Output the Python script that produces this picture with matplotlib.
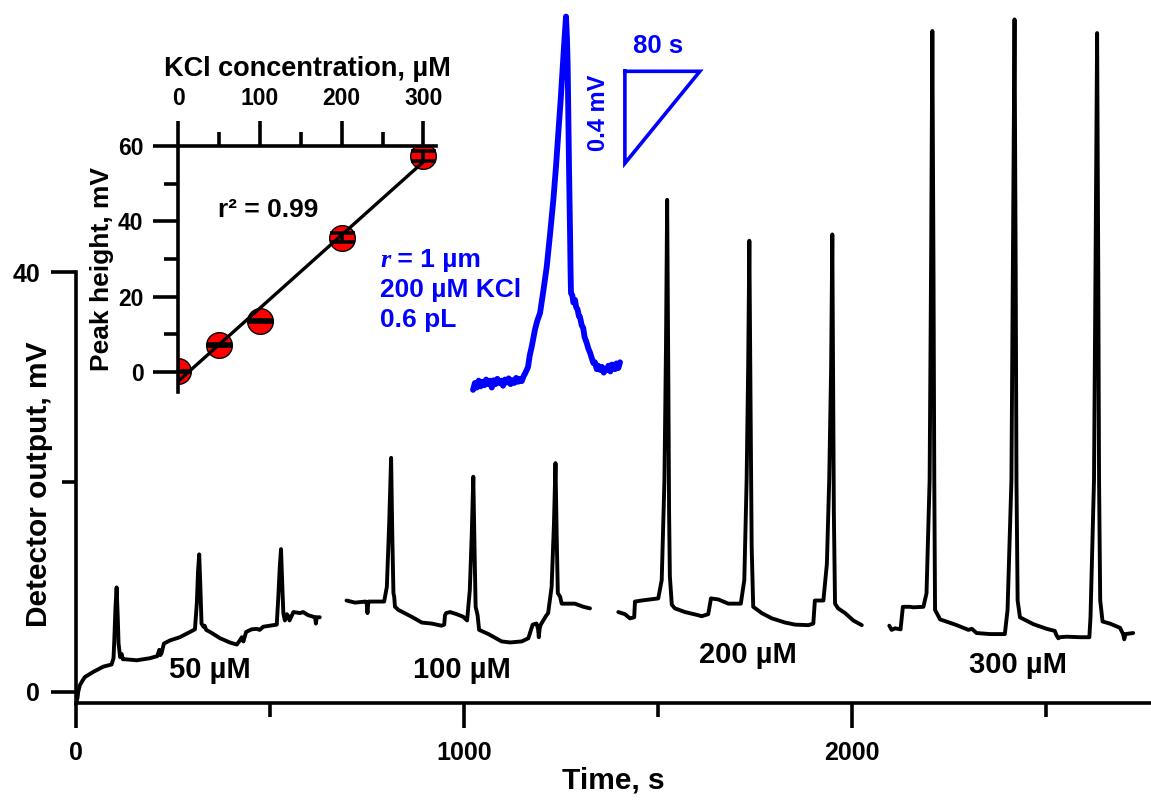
import numpy as np
import matplotlib
matplotlib.use("Agg")
import matplotlib.pyplot as plt
from matplotlib.ticker import FixedLocator

plt.rcParams["font.family"] = ["Liberation Sans", "DejaVu Sans"]
plt.rcParams["font.weight"] = "bold"
plt.rcParams["axes.labelweight"] = "bold"

# detector output (mV) vs time (s), one run per KCl concentration
t_50 = [0, 3, 5, 9, 15, 22, 44, 70, 91, 96, 98, 101, 104, 107, 109, 113, 117, 120, 126, 156,
        190, 209, 214, 217, 220, 226, 242, 267, 293, 306, 311, 314, 317, 320, 323, 328, 331, 335, 345, 371,
        396, 414, 422, 427, 431, 438, 452, 465, 473, 482, 517, 521, 525, 528, 531, 534, 538, 543, 547, 550,
        560, 577, 585, 598, 616, 618, 620, 628]
v_50 = [-1.0, -0.6, 0.0, 0.6, 1.0, 1.4, 1.9, 2.4, 2.6, 3.2, 4.9, 8.0, 9.95, 7.0, 4.6, 3.3, 3.6, 3.1, 3.1, 3.0,
        3.2, 3.4, 4.0, 3.5, 3.7, 4.6, 4.9, 5.2, 5.7, 5.95, 8.5, 11.5, 13.1, 10.0, 6.5, 6.2, 6.3, 5.9, 5.7, 5.1,
        4.7, 4.5, 4.9, 5.2, 4.8, 5.7, 5.95, 6.0, 5.9, 6.2, 6.4, 9.0, 12.0, 13.6, 10.5, 7.5, 6.8, 7.4, 7.2, 6.8,
        7.6, 7.5, 7.6, 7.3, 7.1, 6.5, 7.1, 7.1]

t_100 = [697, 719, 746, 749, 751, 753, 754, 794, 801, 807, 812, 815, 818, 820, 822, 831, 865, 891, 917, 942,
         949, 951, 954, 964, 981, 998, 1008, 1015, 1020, 1024, 1027, 1030, 1035, 1039, 1063, 1097, 1119, 1149, 1166, 1177,
         1187, 1191, 1193, 1195, 1198, 1211, 1217, 1226, 1232, 1236, 1239, 1242, 1248, 1252, 1269, 1286, 1308, 1325]
v_100 = [8.7, 8.5, 8.6, 8.5, 7.5, 8.5, 8.6, 8.6, 10.0, 16.0, 22.3, 15.0, 9.4, 9.05, 8.1, 7.8, 7.15, 6.6, 6.5, 6.3,
         6.4, 7.3, 7.5, 7.6, 7.4, 7.15, 6.8, 9.7, 15.0, 20.5, 14.0, 8.1, 7.3, 5.9, 5.5, 4.8, 4.7, 4.8, 5.1, 6.4,
         6.5, 6.0, 5.2, 6.0, 6.4, 7.2, 7.5, 10.0, 16.0, 21.8, 15.0, 9.4, 9.05, 8.4, 8.4, 8.4, 8.1, 7.95]

t_200 = [1398, 1415, 1428, 1439, 1441, 1458, 1501, 1510, 1517, 1521, 1524, 1527, 1529, 1531, 1536, 1544, 1570, 1604, 1613, 1630,
         1637, 1656, 1682, 1714, 1723, 1729, 1733, 1736, 1739, 1742, 1746, 1768, 1794, 1828, 1854, 1888, 1901, 1905, 1927, 1936,
         1942, 1947, 1950, 1952, 1954, 1957, 1965, 1983, 2004, 2026]
v_200 = [7.6, 7.4, 7.0, 7.1, 8.6, 8.7, 8.9, 10.65, 20.2, 33.0, 46.9, 30.0, 17.0, 11.0, 8.3, 7.95, 7.6, 7.3, 7.2, 7.4,
         8.9, 8.8, 8.4, 8.4, 10.65, 20.2, 31.0, 43.0, 28.0, 13.8, 8.1, 7.5, 7.0, 6.6, 6.4, 6.35, 6.5, 8.7, 8.7, 12.2,
         20.2, 31.0, 43.6, 30.0, 17.0, 8.4, 7.95, 7.5, 6.8, 6.35]

t_300 = [2097, 2103, 2112, 2126, 2132, 2150, 2159, 2185, 2193, 2201, 2205, 2208, 2211, 2213, 2215, 2228, 2271, 2301, 2310, 2322,
         2357, 2395, 2402, 2412, 2416, 2420, 2423, 2425, 2428, 2434, 2468, 2503, 2524, 2528, 2533, 2537, 2554, 2589, 2613, 2616,
         2625, 2629, 2633, 2636, 2638, 2641, 2647, 2666, 2692, 2700, 2703, 2706, 2726]
v_300 = [6.3, 5.9, 6.05, 5.95, 8.1, 8.1, 8.05, 8.1, 9.4, 20.2, 42.0, 63.0, 40.0, 20.2, 7.8, 6.9, 6.35, 5.9, 6.0, 5.6,
         5.5, 5.5, 7.8, 20.2, 42.0, 64.1, 40.0, 20.2, 8.7, 7.1, 6.45, 6.0, 5.8, 5.4, 5.1, 5.2, 5.25, 5.2, 5.2, 7.15,
         20.2, 41.0, 62.8, 40.0, 20.2, 8.7, 6.7, 6.5, 6.1, 5.5, 5.0, 5.5, 5.6]

runs = [(t_50, v_50), (t_100, v_100), (t_200, v_200), (t_300, v_300)]
run_labels = ["50 µM", "100 µM", "200 µM", "300 µM"]

# calibration: mean peak height vs KCl concentration
conc = [0, 50, 100, 200, 300]
peak_mv = [0.2, 7.2, 13.5, 35.7, 57.4]
peak_err = [0.2, 0.3, 0.3, 1.1, 1.4]

# single injection (r = 1 um, 200 uM KCl), time in s, signal in mV above baseline
t_single = [0, 2, 4, 6, 8, 10, 12, 14, 16, 18, 20, 22, 24, 26, 28, 30, 32, 34, 36, 38,
            40, 42, 44, 46, 48, 50, 52, 54, 56, 58.7, 60.5, 62.6, 66, 68.5, 71.5, 75, 78.6, 82, 85.7, 88.5,
            91, 93.5, 95.7, 97.5, 99.2, 100.2, 101, 101.7, 102.4, 103, 103.5, 104, 104.5, 106, 107, 108.8, 110, 111.5, 113, 114.1,
            116, 117.5, 119, 121.3, 123, 125, 126.5, 128.3, 130, 132, 133.5, 135.5, 137.5, 139.5, 141, 142.6, 144.5, 146.5, 148, 149.7,
            151.5, 153, 155, 156.8]
v_single = [-0.03, 0.0, -0.02, 0.01, -0.015, 0.005, -0.01, 0.015, -0.005, 0.01, -0.02, 0.012, -0.005, 0.018, 0.0, 0.01, -0.012, 0.015, 0.002, 0.02,
            -0.005, 0.012, 0.0, 0.022, 0.005, 0.018, 0.008, 0.03, 0.045, 0.07, 0.12, 0.157, 0.23, 0.27, 0.304, 0.40, 0.504, 0.64, 0.796, 0.94,
            1.087, 1.23, 1.374, 1.49, 1.593, 1.50, 1.374, 1.15, 0.939, 0.78, 0.652, 0.50, 0.391, 0.38, 0.35, 0.361, 0.33, 0.32, 0.29, 0.287,
            0.25, 0.24, 0.20, 0.174, 0.15, 0.13, 0.11, 0.087, 0.09, 0.06, 0.075, 0.057, 0.07, 0.045, 0.062, 0.057, 0.075, 0.05, 0.08, 0.078,
            0.06, 0.085, 0.065, 0.09]

W, H = 1151, 800
BLUE = "#0000ff"
LW = 2.6

fig = plt.figure(figsize=(W / 100, H / 100), dpi=100)

# main trace
ax = fig.add_axes([76.3 / W, (H - 703.3) / H, (W - 76.3) / W, 693.3 / H])
ax.set_xlim(0, 2772)
ax.set_ylim(-1.1, 65.0)
for t, v in runs:
    ax.plot(t, v, color="black", lw=2.8, solid_joinstyle="round", solid_capstyle="round")

label_pos = [(345, 1.3), (995, 1.3), (1732, 2.7), (2429, 1.75)]
for txt, (x, y) in zip(run_labels, label_pos):
    ax.text(x, y, txt, fontsize=21, ha="center", va="baseline")

for side in ["top", "right"]:
    ax.spines[side].set_visible(False)
ax.spines["left"].set_bounds(-1.1, 40)
for side in ["left", "bottom"]:
    ax.spines[side].set_linewidth(LW)
ax.xaxis.set_major_locator(FixedLocator([0, 1000, 2000]))
ax.xaxis.set_minor_locator(FixedLocator([500, 1500, 2500]))
ax.yaxis.set_major_locator(FixedLocator([0, 40]))
ax.yaxis.set_minor_locator(FixedLocator([20]))
ax.tick_params(which="major", length=18, width=LW, labelsize=18)
ax.tick_params(which="minor", length=10, width=LW)
ax.tick_params(axis="x", which="major", pad=9)
ax.tick_params(axis="y", which="major", pad=8)
ax.set_xlabel("Time, s", fontsize=21.5, labelpad=1)
ax.set_ylabel("Detector output, mV", fontsize=21.5)
ax.yaxis.set_label_coords(-0.0219, 0.316)

# calibration inset
ax_in = fig.add_axes([178.3 / W, (H - 392) / H, 257.3 / W, 246 / H])
ax_in.patch.set_visible(False)
ax_in.set_xlim(0, 315)
ax_in.set_ylim(-5.3, 60)
ax_in.plot(conc, peak_mv, "o", ms=18.5, mfc="red", mec="black", mew=1, zorder=2)
ax_in.errorbar(conc, peak_mv, yerr=peak_err, fmt="none", ecolor="black",
               elinewidth=LW, capsize=9, capthick=2.6, zorder=3)
slope, icpt = np.polyfit(conc, peak_mv, 1)
fit_x = np.array([0, 300])
ax_in.plot(fit_x, slope * fit_x + icpt, color="black", lw=2.4, zorder=4)
pred = slope * np.array(conc) + icpt
r2 = 1 - np.sum((np.array(peak_mv) - pred) ** 2) / np.sum((np.array(peak_mv) - np.mean(peak_mv)) ** 2)
ax_in.text(48.6, 41.1, f"r² = {r2:.2f}", fontsize=19, ha="left", va="baseline")

ax_in.spines["right"].set_visible(False)
ax_in.spines["bottom"].set_visible(False)
ax_in.spines["left"].set_linewidth(LW)
ax_in.spines["top"].set_linewidth(LW)
ax_in.xaxis.tick_top()
ax_in.xaxis.set_label_position("top")
ax_in.xaxis.set_major_locator(FixedLocator([0, 100, 200, 300]))
ax_in.xaxis.set_minor_locator(FixedLocator([50, 150, 250]))
ax_in.yaxis.set_major_locator(FixedLocator([0, 20, 40, 60]))
ax_in.yaxis.set_minor_locator(FixedLocator([10, 30, 50]))
ax_in.tick_params(which="major", length=18, width=LW, labelsize=16.5)
ax_in.tick_params(which="minor", length=10, width=LW)
ax_in.tick_params(axis="x", which="major", pad=8)
ax_in.tick_params(axis="y", which="major", pad=7)
ax_in.set_xlabel("KCl concentration, µM", fontsize=19.5, labelpad=8)
ax_in.set_ylabel("Peak height, mV", fontsize=19, labelpad=3)

# single peak with scale bars
ax_b = fig.add_axes([370 / W, (H - 400) / H, 340 / W, 400 / H])
ax_b.set_axis_off()
ax_b.set_xlim(-109.9, 252.8)
ax_b.set_ylim(-0.074, 1.665)
ax_b.plot(t_single, v_single, color=BLUE, lw=4.2, solid_joinstyle="round", solid_capstyle="round")
ax_b.plot([162, 242, 162, 162], [1.355, 1.355, 0.955, 1.355], color=BLUE, lw=2.6,
          solid_joinstyle="miter")
ax_b.text(197.3, 1.433, "80 s", color=BLUE, fontsize=18.5, ha="center", va="baseline")
ax_b.text(140.8, 1.174, "0.4 mV", color=BLUE, fontsize=17, rotation=90,
          ha="center", va="baseline", rotation_mode="anchor")
r_txt = ax_b.text(-99.2, 0.506, "r", color=BLUE, fontsize=19, va="baseline",
                  family="Liberation Serif", style="italic", weight="bold")
ax_b.annotate(" = 1 µm", xy=(1, 0), xycoords=r_txt, va="bottom", color=BLUE, fontsize=19)
ax_b.text(-99.2, 0.375, "200 µM KCl", color=BLUE, fontsize=19, va="baseline")
ax_b.text(-99.2, 0.245, "0.6 pL", color=BLUE, fontsize=19, va="baseline")

fig.savefig("out.png", dpi=100)
